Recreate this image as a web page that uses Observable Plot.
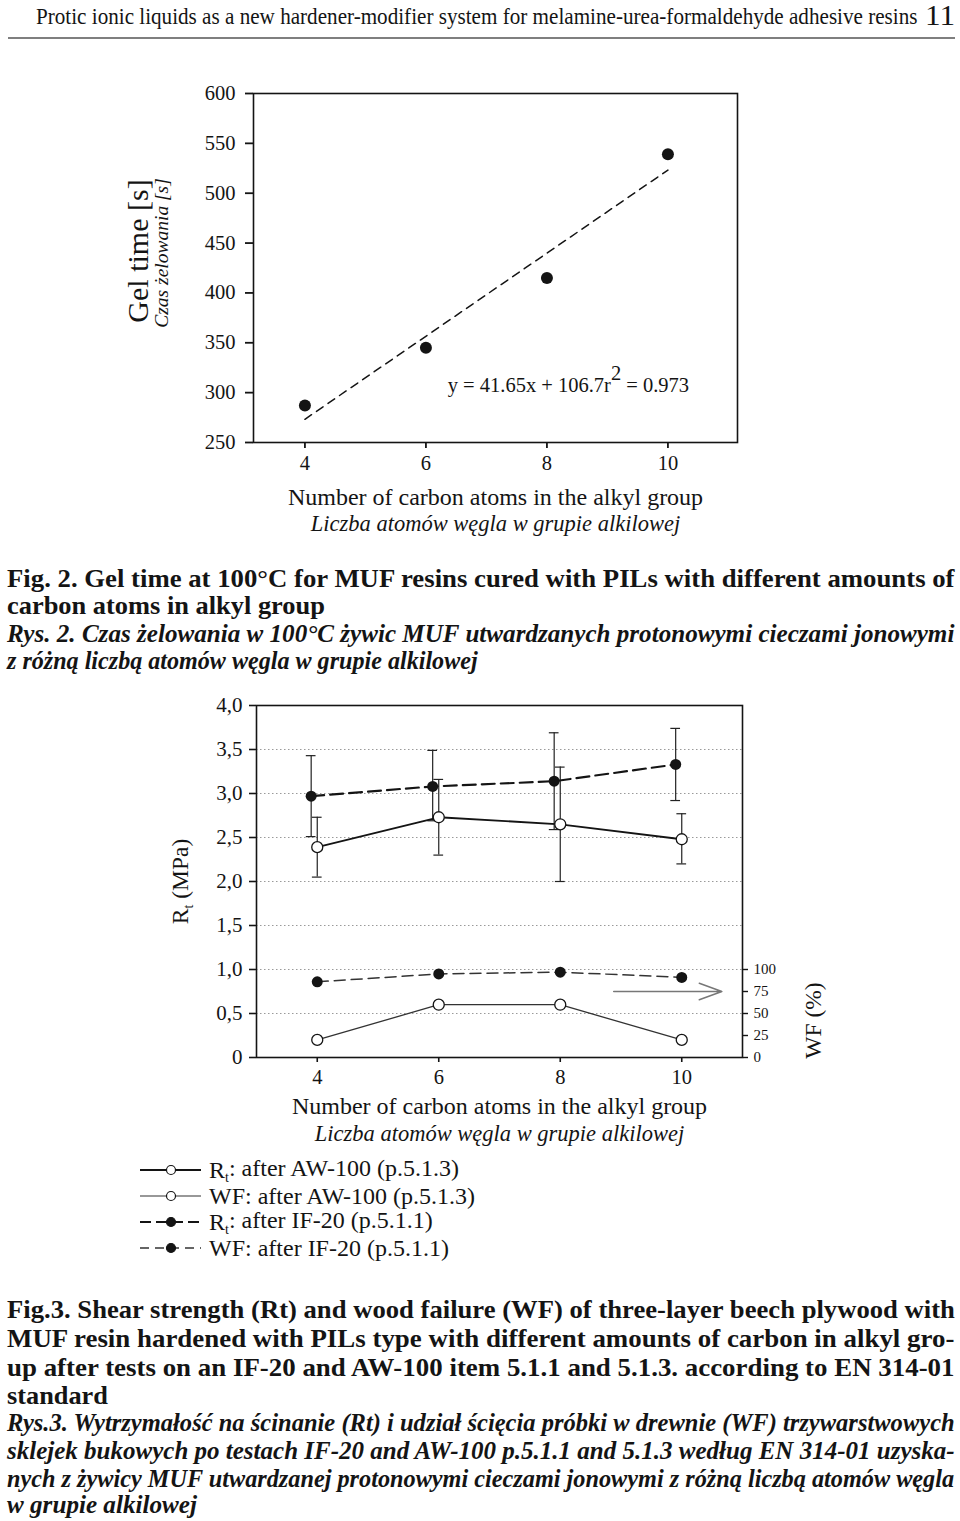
<!DOCTYPE html>
<html>
<head>
<meta charset="utf-8">
<script src="https://cdn.jsdelivr.net/npm/d3@7"></script>
<script src="https://cdn.jsdelivr.net/npm/@observablehq/plot@0.6"></script>
<style>
  html, body { margin: 0; padding: 0; background: #fff; }
  #page { position: relative; width: 960px; height: 1521px; overflow: hidden; font-family: "Liberation Serif", "Times New Roman", serif; color: #111; }
  #page svg { position: absolute; left: 0; }
</style>
</head>
<body>
<div id="page"></div>
<script>
// ---------------- DATA ----------------
const headerText = "Protic ionic liquids as a new hardener-modifier system for melamine-urea-formaldehyde adhesive resins";
const pageNumber = "11";

// Fig. 2 – gel time
const carbonAtoms = [4, 6, 8, 10];
const gelTime = [287, 345, 415, 539];
const fitSlope = 41.65;
const fitIntercept = 106.7;
const fitR2 = "0.973";
const gelTicks = [250, 300, 350, 400, 450, 500, 550, 600];

// Fig. 3 – shear strength (Rt) and wood failure (WF)
const rtAW = [2.39, 2.73, 2.65, 2.48];
const rtAWLow = [2.05, 2.30, 2.00, 2.20];
const rtAWHigh = [2.73, 3.16, 3.30, 2.77];
const carbonAtomsIF = [3.9, 5.9, 7.9, 9.9];
const rtIF = [2.97, 3.08, 3.14, 3.33];
const rtIFLow = [2.51, 2.69, 2.59, 2.92];
const rtIFHigh = [3.43, 3.49, 3.69, 3.74];
const wfAW = [20, 60, 60, 20];
const wfIF = [86, 95, 97, 91];
const rtTicks = [0, 0.5, 1.0, 1.5, 2.0, 2.5, 3.0, 3.5, 4.0];
const wfTicks = [0, 25, 50, 75, 100];
const xTicks = [4, 6, 8, 10];

const xTitle = "Number of carbon atoms in the alkyl group";
const xTitlePl = "Liczba atomów węgla w grupie alkilowej";
const gelTitle = "Gel time [s]";
const gelTitlePl = "Czas żelowania [s]";
const rtTitle = "Rt (MPa)";
const wfTitle = "WF (%)";

const legendLabels = [
  "Rt: after AW-100 (p.5.1.3)",
  "WF: after AW-100 (p.5.1.3)",
  "Rt: after IF-20 (p.5.1.1)",
  "WF: after IF-20 (p.5.1.1)"
];

const fig2Caption = [
  "Fig. 2. Gel time at 100°C for MUF resins cured with PILs with different amounts of",
  "carbon atoms in alkyl group"
];
const fig2CaptionPl = [
  "Rys. 2. Czas żelowania w 100°C żywic MUF utwardzanych protonowymi cieczami jonowymi",
  "z różną liczbą atomów węgla w grupie alkilowej"
];
const fig3Caption = [
  "Fig.3. Shear strength (Rt) and wood failure (WF) of three-layer beech plywood with",
  "MUF resin hardened with PILs type with different amounts of carbon in alkyl gro-",
  "up after tests on an IF-20 and AW-100 item 5.1.1 and 5.1.3. according to EN 314-01",
  "standard"
];
const fig3CaptionPl = [
  "Rys.3. Wytrzymałość na ścinanie (Rt) i udział ścięcia próbki w drewnie (WF) trzywarstwowych",
  "sklejek bukowych po testach  IF-20 and AW-100 p.5.1.1 and 5.1.3 według  EN 314-01 uzyska-",
  "nych z żywicy MUF utwardzanej protonowymi cieczami jonowymi z różną liczbą atomów węgla",
  "w grupie alkilowej"
];

// ---------------- TABLES ----------------
const gelData = carbonAtoms.map((x, i) => ({x, y: gelTime[i]}));
const fitData = [carbonAtoms[0], carbonAtoms[carbonAtoms.length - 1]].map(x => ({x, y: fitSlope * x + fitIntercept}));
const fitLabel = `y = ${fitSlope}x + ${fitIntercept}r2 = ${fitR2}`;

const awData = carbonAtoms.map((x, i) => ({x, y: rtAW[i], lo: rtAWLow[i], hi: rtAWHigh[i]}));
const ifData = carbonAtomsIF.map((x, i) => ({x, y: rtIF[i], lo: rtIFLow[i], hi: rtIFHigh[i]}));
const wfAWData = carbonAtoms.map((x, i) => ({x, y: wfAW[i] / 100}));
const wfIFData = carbonAtoms.map((x, i) => ({x, y: wfIF[i] / 100}));
const wfArrow = [{x1: 8.88, x2: 10.66, y: wfTicks[3] / 100}];

const FONT = "Liberation Serif";
const INK = "#141414";
const cap = 0.08;

// ---------------- PAGE ----------------
const page = document.getElementById("page");
const bg = d3.select(page).append("svg")
  .attr("width", 960).attr("height", 1521)
  .style("top", "0px")
  .attr("font-family", FONT).attr("fill", INK);

// text line squeezed horizontally to the measured width of the printed line
function textLine(str, x, y, len, size, weight, style) {
  const t = bg.append("text")
    .attr("x", 0).attr("y", 0)
    .attr("font-size", size)
    .attr("font-weight", weight || "normal")
    .attr("font-style", style || "normal")
    .text(str);
  const natural = t.node().getComputedTextLength() || len;
  const s = len / natural;
  t.attr("transform", `translate(${x},${y}) scale(${s.toFixed(4)},1)`);
  return t;
}

// header
textLine(headerText, 36, 24, 882, 23, "normal");
textLine(pageNumber, 925, 25, 30, 29, "normal");
bg.append("line").attr("x1", 8).attr("x2", 955).attr("y1", 38).attr("y2", 38)
  .attr("stroke", "#555").attr("stroke-width", 1.5);

// captions fig 2
const capSize = 25.5;
const fig2Layout = [[587, 948], [614, 318]];
const fig2PlLayout = [[642, 948], [669, 471]];
fig2Caption.forEach((s, i) => textLine(s, 7, fig2Layout[i][0], fig2Layout[i][1], capSize, "bold"));
fig2CaptionPl.forEach((s, i) => textLine(s, 7, fig2PlLayout[i][0], fig2PlLayout[i][1], capSize, "bold", "italic"));

// captions fig 3
const fig3Layout = [[1318, 948], [1347, 948], [1376, 948], [1404, 101]];
const fig3PlLayout = [[1431, 948], [1459, 948], [1487, 948], [1513, 190]];
fig3Caption.forEach((s, i) => textLine(s, 7, fig3Layout[i][0], fig3Layout[i][1], capSize, "bold"));
fig3CaptionPl.forEach((s, i) => textLine(s, 7, fig3PlLayout[i][0], fig3PlLayout[i][1], capSize, "bold", "italic"));

// legend
const legendStyles = [
  {dash: null, w: 1.8, stroke: INK, fill: "#fff"},
  {dash: null, w: 1.2, stroke: "#333", fill: "#fff"},
  {dash: "11,5", w: 2.2, stroke: INK, fill: INK},
  {dash: "9,6", w: 1.4, stroke: "#333", fill: INK}
];
legendLabels.forEach((lab, i) => {
  const y = 1170 + i * 26;
  const st = legendStyles[i];
  const ln = bg.append("line").attr("x1", 140).attr("x2", 201).attr("y1", y).attr("y2", y)
    .attr("stroke", st.stroke).attr("stroke-width", st.w);
  if (st.dash) ln.attr("stroke-dasharray", st.dash);
  bg.append("circle").attr("cx", 171).attr("cy", y).attr("r", 4.5)
    .attr("fill", st.fill).attr("stroke", INK).attr("stroke-width", 1.2);
  const t = bg.append("text").attr("x", 209).attr("y", y).attr("dy", "0.35em").attr("font-size", 24);
  if (lab.startsWith("Rt")) {
    t.append("tspan").text("R");
    t.append("tspan").attr("font-size", 14).attr("dy", "0.25em").text("t");
    t.append("tspan").attr("dy", "-0.25em").text(lab.slice(2));
  } else {
    t.text(lab);
  }
});

function withSub(svg, str) {
  d3.select(svg).selectAll("text").filter(function () { return this.textContent === str; })
    .each(function () {
      const t = d3.select(this);
      t.text("");
      t.append("tspan").text(str[0]);
      t.append("tspan").attr("font-size", "0.58em").attr("dy", "0.35em").text(str[1]);
      t.append("tspan").attr("dy", "-0.2em").text(str.slice(2));
    });
}

// ---------------- CHART 1 ----------------
const chart1 = Plot.plot({
  width: 960, height: 480,
  marginLeft: 253, marginRight: 223, marginTop: 33, marginBottom: 98,
  style: {fontFamily: FONT, fontSize: "20px", color: INK, background: "transparent", overflow: "visible"},
  x: {domain: [3.15, 11.15], label: null},
  y: {domain: [250, 600], label: null},
  marks: [
    Plot.frame({stroke: INK, strokeWidth: 1.6}),
    Plot.axisX({ticks: xTicks, tickSize: 6, tickPadding: 7, strokeWidth: 1.8, label: null, fontSize: 20.5}),
    Plot.axisY({ticks: gelTicks, tickSize: 8, tickPadding: 10, strokeWidth: 1.8, label: null, fontSize: 20.5}),
    Plot.line(fitData, {x: "x", y: "y", stroke: INK, strokeWidth: 1.5, strokeDasharray: "8,6"}),
    Plot.dot(gelData, {x: "x", y: "y", r: 6, fill: INK, stroke: "none"}),
    Plot.text([fitLabel], {text: d => d, x: 6.36, y: 307, textAnchor: "start", fontSize: 20.5, fill: INK}),
    Plot.text([xTitle], {text: d => d, frameAnchor: "bottom", lineAnchor: "middle", textAnchor: "middle", dy: 55, fontSize: 24, fill: INK}),
    Plot.text([xTitlePl], {text: d => d, frameAnchor: "bottom", lineAnchor: "middle", textAnchor: "middle", dy: 81, fontSize: 22.5, fontStyle: "italic", fill: INK}),
    Plot.text([gelTitle], {text: d => d, frameAnchor: "left", lineAnchor: "middle", textAnchor: "middle", rotate: -90, dx: -115, dy: -17, fontSize: 30, fill: INK}),
    Plot.text([gelTitlePl], {text: d => d, frameAnchor: "left", lineAnchor: "middle", textAnchor: "middle", rotate: -90, dx: -92, dy: -15, fontSize: 19.5, fontStyle: "italic", fill: INK})
  ]
});
chart1.style.top = "60px";
page.appendChild(chart1);

// superscript in the fit label
d3.select(chart1).selectAll("text").filter(function () { return this.textContent === fitLabel; })
  .each(function () {
    const t = d3.select(this);
    t.text("");
    t.append("tspan").text(`y = ${fitSlope}x + ${fitIntercept}r`);
    t.append("tspan").attr("dy", "-0.6em").text("2");
    t.append("tspan").attr("dy", "0.6em").text(` = ${fitR2}`);
  });

// ---------------- CHART 2 ----------------
const gridVals = rtTicks.filter(d => d > 0 && d < 4);
const chart2 = Plot.plot({
  width: 960, height: 480,
  marginLeft: 256, marginRight: 218, marginTop: 25, marginBottom: 103,
  style: {fontFamily: FONT, fontSize: "20px", color: INK, background: "transparent", overflow: "visible"},
  x: {domain: [3, 11], label: null},
  y: {domain: [0, 4], label: null},
  marks: [
    Plot.ruleY(gridVals, {stroke: "#9a9a9a", strokeWidth: 1.2, strokeDasharray: "1.5,2.5"}),
    Plot.frame({stroke: INK, strokeWidth: 1.6}),
    Plot.axisX({ticks: xTicks, tickSize: 5, tickPadding: 7, strokeWidth: 1.6, label: null, fontSize: 20.5}),
    Plot.axisY({ticks: rtTicks, tickSize: 7, tickPadding: 7, strokeWidth: 1.6, label: null, fontSize: 21,
      tickFormat: d => d === 0 ? "0" : d.toFixed(1).replace(".", ",")}),
    Plot.axisY({anchor: "right", ticks: wfTicks.map(d => d / 100), tickSize: 5, tickPadding: 6, strokeWidth: 1.4,
      label: null, fontSize: 15, tickFormat: d => String(Math.round(d * 100))}),
    // error bars
    Plot.ruleX(awData, {x: "x", y1: "lo", y2: "hi", stroke: "#222", strokeWidth: 1.2}),
    Plot.ruleY(awData, {y: "lo", x1: d => d.x - cap, x2: d => d.x + cap, stroke: "#222", strokeWidth: 1.2}),
    Plot.ruleY(awData, {y: "hi", x1: d => d.x - cap, x2: d => d.x + cap, stroke: "#222", strokeWidth: 1.2}),
    Plot.ruleX(ifData, {x: "x", y1: "lo", y2: "hi", stroke: "#222", strokeWidth: 1.2}),
    Plot.ruleY(ifData, {y: "lo", x1: d => d.x - cap, x2: d => d.x + cap, stroke: "#222", strokeWidth: 1.2}),
    Plot.ruleY(ifData, {y: "hi", x1: d => d.x - cap, x2: d => d.x + cap, stroke: "#222", strokeWidth: 1.2}),
    // lines
    Plot.line(wfIFData, {x: "x", y: "y", stroke: "#333", strokeWidth: 1.5, strokeDasharray: "11,6"}),
    Plot.line(wfAWData, {x: "x", y: "y", stroke: "#333", strokeWidth: 1.3}),
    Plot.line(ifData, {x: "x", y: "y", stroke: INK, strokeWidth: 2.1, strokeDasharray: "13,6"}),
    Plot.line(awData, {x: "x", y: "y", stroke: INK, strokeWidth: 1.8}),
    // points
    Plot.dot(wfAWData, {x: "x", y: "y", r: 5.5, fill: "#fff", stroke: INK, strokeWidth: 1.3}),
    Plot.dot(wfIFData, {x: "x", y: "y", r: 5.5, fill: INK, stroke: "none"}),
    Plot.dot(awData, {x: "x", y: "y", r: 5.5, fill: "#fff", stroke: INK, strokeWidth: 1.3}),
    Plot.dot(ifData, {x: "x", y: "y", r: 5.5, fill: INK, stroke: "none"}),
    // arrow pointing to the WF axis
    Plot.arrow(wfArrow, {x1: "x1", x2: "x2", y1: "y", y2: "y", stroke: "#777", strokeWidth: 1.5, headLength: 24, headAngle: 40}),
    // titles
    Plot.text([xTitle], {text: d => d, frameAnchor: "bottom", lineAnchor: "middle", textAnchor: "middle", dy: 49, fontSize: 24, fill: INK}),
    Plot.text([xTitlePl], {text: d => d, frameAnchor: "bottom", lineAnchor: "middle", textAnchor: "middle", dy: 76, fontSize: 22.5, fontStyle: "italic", fill: INK}),
    Plot.text([rtTitle], {text: d => d, frameAnchor: "left", lineAnchor: "middle", textAnchor: "middle", rotate: -90, dx: -76, fontSize: 23.5, fill: INK}),
    Plot.text([wfTitle], {text: d => d, y: wfTicks[2] / 100, frameAnchor: "right", lineAnchor: "middle", textAnchor: "middle", rotate: -90, dx: 71, dy: 7, fontSize: 23.5, fill: INK})
  ]
});
chart2.style.top = "680px";
page.appendChild(chart2);
withSub(chart2, rtTitle);
</script>
</body>
</html>
